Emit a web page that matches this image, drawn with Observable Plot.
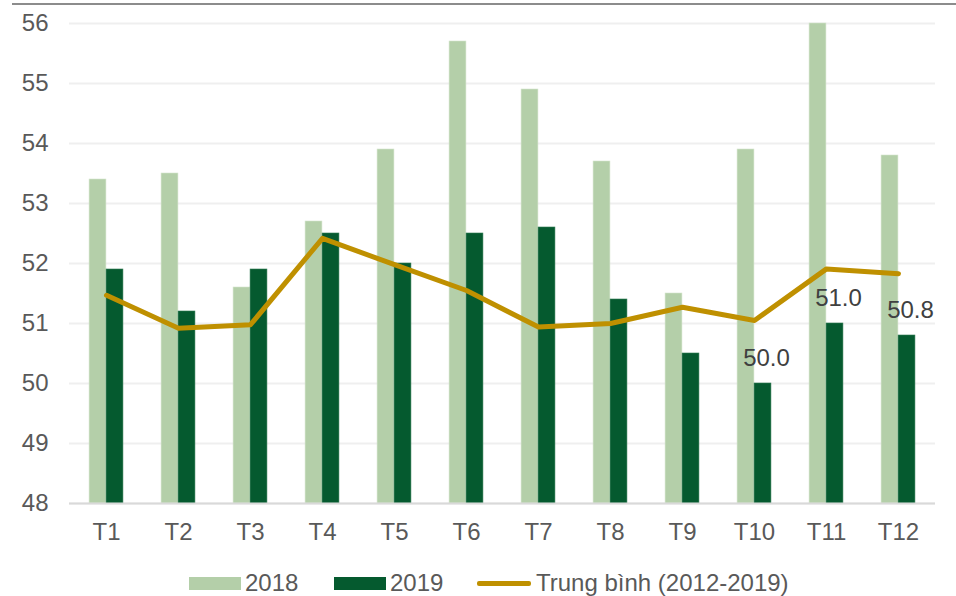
<!DOCTYPE html>
<html>
<head>
<meta charset="utf-8">
<script src="https://cdn.jsdelivr.net/npm/d3@7"></script>
<script src="https://cdn.jsdelivr.net/npm/@observablehq/plot@0.6"></script>
<style>
  body { margin: 0; background: #fff; font-family: "Liberation Sans", Arial, sans-serif; }
  #wrap { position: relative; width: 956px; height: 596px; overflow: hidden; }
  #topline { position: absolute; left: 12px; right: 0; top: 3px; height: 2px; background: #8c8c8c; z-index: 2; }
  #chart { position: absolute; left: 0; top: 0; }
  .lg { position: absolute; font-size: 24px; color: #595959; line-height: 24px; white-space: nowrap; }
  .sw { position: absolute; }
</style>
</head>
<body>
<div id="wrap">
  <div id="chart"></div>
  <div id="topline"></div>
  <div class="sw" style="left:189px;top:577px;width:52px;height:13px;background:#b4cfa9"></div>
  <div class="lg" style="left:245px;top:571px">2018</div>
  <div class="sw" style="left:334px;top:577px;width:52px;height:13px;background:#055a2f"></div>
  <div class="lg" style="left:390px;top:571px">2019</div>
  <div class="sw" style="left:477px;top:581px;width:54px;height:5px;background:#bf9000;border-radius:2px"></div>
  <div class="lg" style="left:536px;top:571px">Trung bình (2012-2019)</div>
</div>
<script>
const months = ["T1","T2","T3","T4","T5","T6","T7","T8","T9","T10","T11","T12"];
const v2018 = [53.4, 53.5, 51.6, 52.7, 53.9, 55.7, 54.9, 53.7, 51.5, 53.9, 56.0, 53.8];
const v2019 = [51.9, 51.2, 51.9, 52.5, 52.0, 52.5, 52.6, 51.4, 50.5, 50.0, 51.0, 50.8];
const avg   = [51.47, 50.92, 50.98, 52.42, 51.98, 51.55, 50.94, 51.0, 51.27, 51.05, 51.91, 51.83];
const labelled = ["T10", "T11", "T12"];
const yTicks = [48, 49, 50, 51, 52, 53, 54, 55, 56];

const d18 = months.map((m, i) => ({month: m, value: v2018[i]}));
const d19 = months.map((m, i) => ({month: m, value: v2019[i]}));
const dAvg = months.map((m, i) => ({month: m, value: avg[i]}));
const dLab = d19.filter(d => labelled.includes(d.month));

const W = 956, ML = 69, MR = 21;
const band = (W - ML - MR) / months.length;
const barW = 17;
const inner = band / 2 - barW;

const chart = Plot.plot({
  width: W,
  height: 560,
  marginLeft: ML,
  marginRight: MR,
  marginTop: 23,
  marginBottom: 57,
  style: {fontFamily: "Liberation Sans, Arial, sans-serif", fontSize: "24px", color: "#595959", background: "transparent"},
  x: {type: "band", domain: months, padding: 0, label: null},
  y: {domain: [48, 56], label: null},
  marks: [
    Plot.gridY(yTicks, {stroke: "#efefef", strokeOpacity: 1, strokeWidth: 2}),
    Plot.barY(d18, {x: "month", y1: 48, y2: "value", fill: "#b4cfa9", insetLeft: inner, insetRight: band / 2, stroke: "#d4e4cc", strokeWidth: 0.6}),
    Plot.barY(d19, {x: "month", y1: 48, y2: "value", fill: "#055a2f", insetLeft: band / 2, insetRight: inner, stroke: "#2f7a52", strokeWidth: 0.6}),
    Plot.ruleY([48], {stroke: "#d9d9d9", strokeWidth: 2}),
    Plot.line(dAvg, {x: "month", y: "value", stroke: "#bf9000", strokeWidth: 5, strokeLinejoin: "round", strokeLinecap: "round"}),
    Plot.text(dLab, {x: "month", y: "value", text: d => d.value.toFixed(1), dx: 12, dy: -25, fill: "#404040", fontSize: 24}),
    Plot.axisY(yTicks, {tickSize: 0, tickPadding: 21, tickFormat: d => String(d), fill: "#595959", fontSize: 24}),
    Plot.axisX(months, {tickSize: 0, tickPadding: 19, fill: "#595959", fontSize: 24})
  ]
});
document.getElementById("chart").appendChild(chart);
</script>
</body>
</html>
